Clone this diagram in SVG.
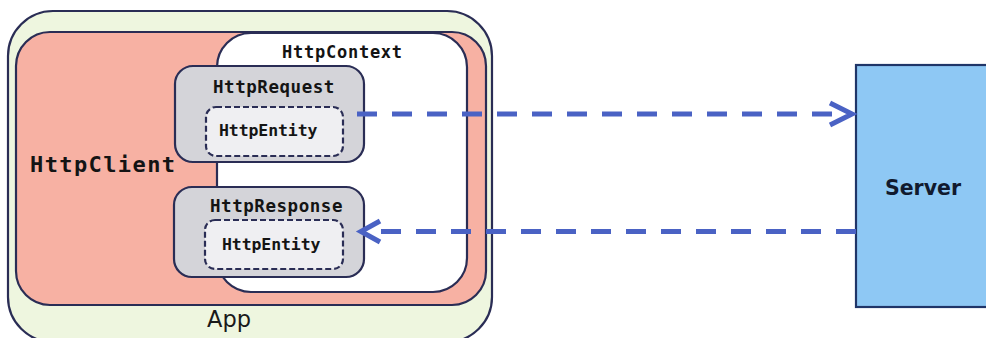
<svg xmlns="http://www.w3.org/2000/svg" width="986" height="338" viewBox="0 0 986 338">
<defs>
<style>
.bd{stroke:#2a2d55;stroke-width:2.2}
.mono{font-family:"DejaVu Sans Mono",monospace;font-weight:bold;fill:#141414}
.conn{fill:none;stroke:#4a62c4;stroke-width:5}
.dash{stroke-dasharray:20 15}
</style>
</defs>
<rect width="986" height="338" fill="#ffffff"/>
<g id="app">
<rect class="bd" x="8" y="11" width="484" height="331" rx="45" ry="45" fill="#eef6df"/>
<text x="207" y="327" font-family="DejaVu Sans, sans-serif" font-size="22.5" fill="#1a1a1a">App</text>
</g>
<g id="httpclient">
<rect class="bd" x="16" y="32" width="470" height="273" rx="34" ry="34" fill="#f7b1a3"/>
<text class="mono" x="30" y="172" font-size="22" letter-spacing="1.4">HttpClient</text>
</g>
<g id="httpcontext">
<rect class="bd" x="217" y="33" width="250" height="259" rx="34" ry="34" fill="#ffffff"/>
<text class="mono" x="282" y="58" font-size="17" letter-spacing="0.75">HttpContext</text>
</g>
<g id="httprequest">
<rect class="bd" x="175" y="66" width="189" height="96" rx="18" ry="18" fill="#d4d4d9"/>
<text class="mono" x="213" y="93" font-size="17.5" letter-spacing="0.55">HttpRequest</text>
</g>
<g id="request-entity">
<rect class="bd" x="206" y="107" width="137" height="49" rx="10" ry="10" fill="#efeff2" stroke-dasharray="6 3"/>
<text class="mono" x="219" y="136" font-size="16.5" letter-spacing="-0.1">HttpEntity</text>
</g>
<g id="httpresponse">
<rect class="bd" x="174" y="187" width="190" height="90" rx="18" ry="18" fill="#d4d4d9"/>
<text class="mono" x="210" y="212" font-size="17.5" letter-spacing="0.55">HttpResponse</text>
</g>
<g id="response-entity">
<rect class="bd" x="205" y="220" width="138" height="49" rx="10" ry="10" fill="#efeff2" stroke-dasharray="6 3"/>
<text class="mono" x="222" y="250" font-size="16.5" letter-spacing="-0.1">HttpEntity</text>
</g>
<g id="server">
<rect x="856" y="65" width="140" height="242" fill="#8ec8f4" stroke="#1f3568" stroke-width="2.2"/>
<text x="923" y="195" text-anchor="middle" font-family="DejaVu Sans, sans-serif" font-weight="bold" font-size="20.5" fill="#111a2e">Server</text>
</g>
<g id="connectors">
<path class="conn dash" d="M357 114 H850"/>
<path class="conn" d="M830 103 L852 114 L830 125"/>
<path class="conn dash" d="M856 231.5 H364"/>
<path class="conn" d="M380 221 L361 231.5 L380 242"/>
</g>
</svg>
